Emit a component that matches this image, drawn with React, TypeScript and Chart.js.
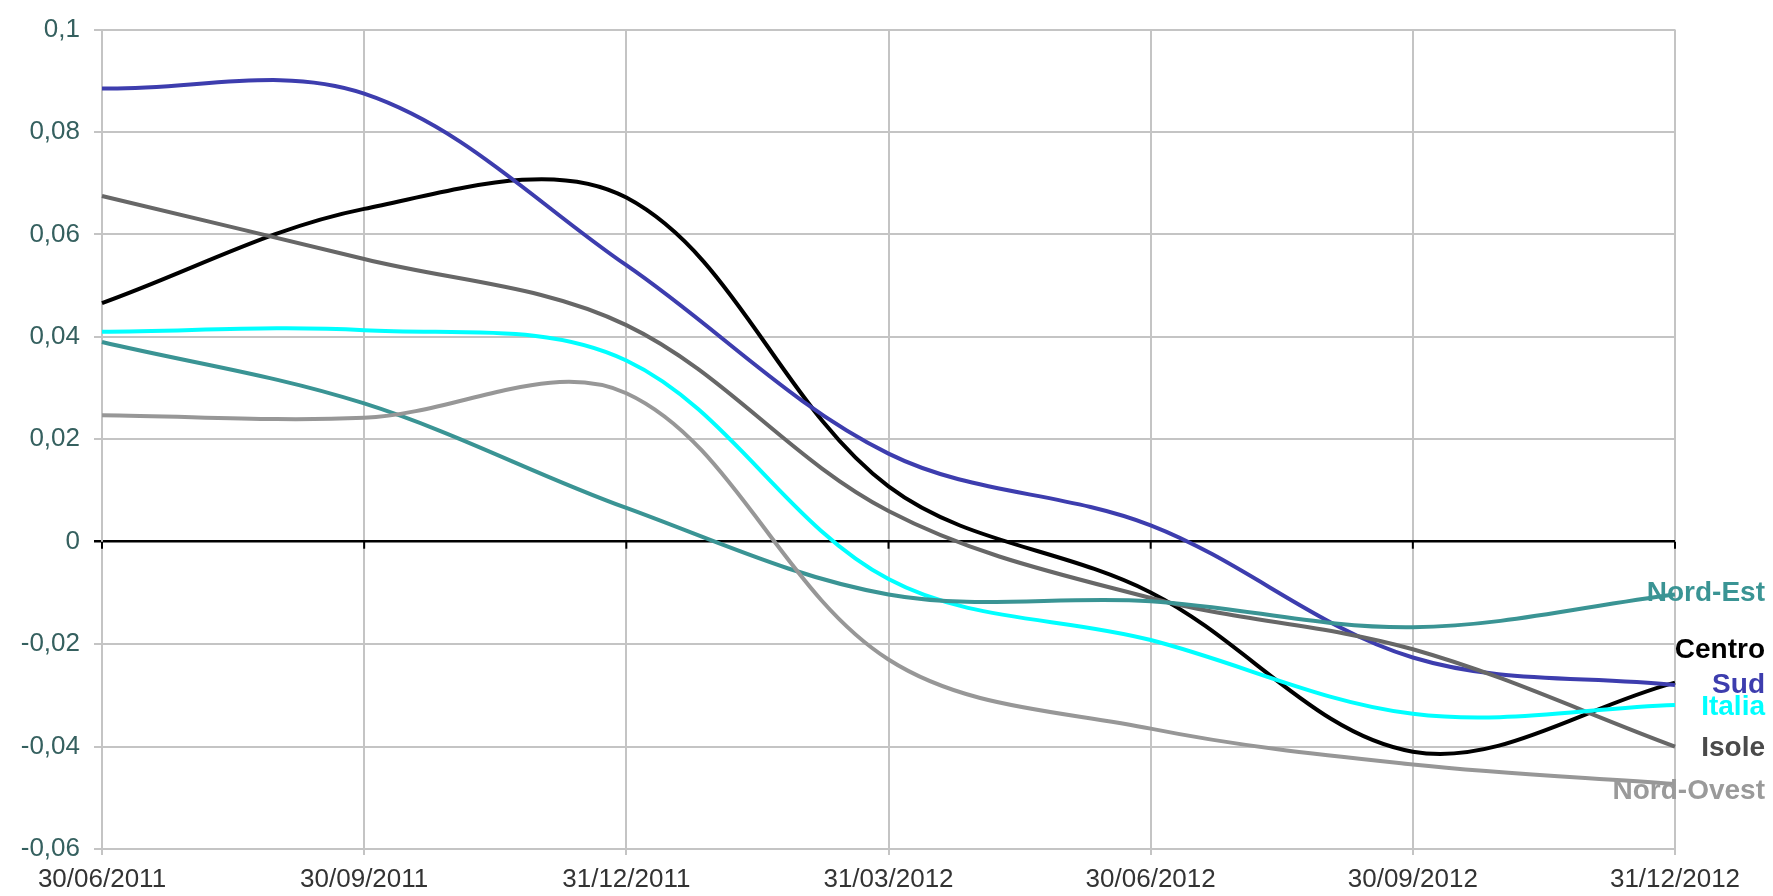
import { useEffect, useRef } from 'react';
import { Chart, registerables } from 'chart.js';

Chart.register(...registerables);

const categories = ['30/06/2011', '30/09/2011', '31/12/2011', '31/03/2012', '30/06/2012', '30/09/2012', '31/12/2012'];

const sud = [0.0885, 0.0875, 0.054, 0.0172, 0.0032, -0.0226, -0.028];
const centro = [0.0466, 0.065, 0.0672, 0.0108, -0.0099, -0.041, -0.0275];
const isole = [0.0675, 0.0552, 0.0423, 0.006, -0.011, -0.021, -0.04];
const italia = [0.041, 0.0413, 0.0354, -0.0073, -0.0192, -0.0336, -0.0319];
const nordEst = [0.039, 0.027, 0.0066, -0.0103, -0.0116, -0.0167, -0.0103];
const nordOvest = [0.0247, 0.0242, 0.029, -0.023, -0.0365, -0.0435, -0.0473];

const seriesNames = ['Nord-Ovest', 'Nord-Est', 'Italia', 'Isole', 'Sud', 'Centro'];
const seriesColors = ['#979797', '#3A9494', '#00FFFF', '#676767', '#3D3DAE', '#000000'];
const labelColors = ['#9A9A9A', '#3A9494', '#00FFFF', '#4A4A4A', '#3D3DAE', '#000000'];
// value at which each end label is centred
const labelValues = [-0.0488, -0.0101, -0.0323, -0.0404, -0.0281, -0.0211];

const yMin = -0.06;
const yMax = 0.1;
const yStep = 0.02;

const FONT = '"Liberation Sans", Arial, sans-serif';

export default function App() {
  const ref = useRef<HTMLCanvasElement | null>(null);

  useEffect(() => {
    document.body.style.margin = '0';
    const canvas = ref.current;
    if (!canvas) return;
    const seriesData = [nordOvest, nordEst, italia, isole, sud, centro];

    const zeroTicks = {
      id: 'zeroTicks',
      afterDatasetsDraw(chart: any) {
        const { ctx, scales } = chart;
        const y0 = scales.y.getPixelForValue(0);
        ctx.save();
        ctx.strokeStyle = '#000';
        ctx.lineWidth = 2;
        categories.forEach((_, i) => {
          const x = scales.x.getPixelForValue(i);
          ctx.beginPath();
          ctx.moveTo(x, y0);
          ctx.lineTo(x, y0 + 7);
          ctx.stroke();
        });
        ctx.restore();
      },
    };

    const endLabels = {
      id: 'endLabels',
      afterDraw(chart: any) {
        const { ctx, scales } = chart;
        ctx.save();
        ctx.font = 'bold 28px ' + FONT;
        ctx.textAlign = 'right';
        ctx.textBaseline = 'middle';
        seriesNames.forEach((name, i) => {
          ctx.fillStyle = labelColors[i];
          ctx.fillText(name, chart.width - 8, scales.y.getPixelForValue(labelValues[i]));
        });
        ctx.restore();
      },
    };

    const chart = new Chart(canvas, {
      type: 'line',
      data: {
        labels: categories,
        datasets: seriesNames.map((name, i) => ({
          label: name,
          data: seriesData[i],
          borderColor: seriesColors[i],
          backgroundColor: seriesColors[i],
          borderWidth: 4,
          pointRadius: 0,
          tension: 0.35,
          fill: false,
        })),
      },
      options: {
        animation: false,
        responsive: false,
        maintainAspectRatio: false,
        devicePixelRatio: 1,
        layout: { padding: { top: 25, right: 98, bottom: 0, left: 0 } },
        plugins: {
          legend: { display: false },
          tooltip: { enabled: false },
          title: { display: false },
        },
        scales: {
          x: {
            type: 'category',
            offset: false,
            grid: {
              color: '#C4C4C4',
              lineWidth: 2,
              tickLength: 6,
            },
            border: { color: '#C4C4C4', width: 2 },
            ticks: {
              color: '#333333',
              font: { family: FONT, size: 26 },
              padding: 9,
              maxRotation: 0,
              autoSkip: false,
            },
            afterFit(scale: any) {
              scale.height = 47;
            },
          },
          y: {
            min: yMin,
            max: yMax,
            grid: {
              color: (c: any) => (c.tick && Math.abs(c.tick.value) < 1e-9 ? '#000000' : '#C4C4C4'),
              lineWidth: (c: any) => (c.tick && Math.abs(c.tick.value) < 1e-9 ? 2.5 : 2),
              tickLength: 8,
            },
            border: { color: '#C4C4C4', width: 2 },
            ticks: {
              stepSize: yStep,
              color: '#35605F',
              font: { family: FONT, size: 26 },
              padding: 14,
              callback: (v: any) => {
                const n = Number(Number(v).toFixed(4));
                return String(n).replace('.', ',');
              },
            },
            afterFit(scale: any) {
              scale.width = 102;
            },
          },
        },
      },
      plugins: [zeroTicks, endLabels],
    });

    return () => chart.destroy();
  }, []);

  return (
    <div style={{ width: 1773, height: 896 }}>
      <canvas ref={ref} width={1773} height={896} style={{ width: 1773, height: 896, display: 'block' }} />
    </div>
  );
}
